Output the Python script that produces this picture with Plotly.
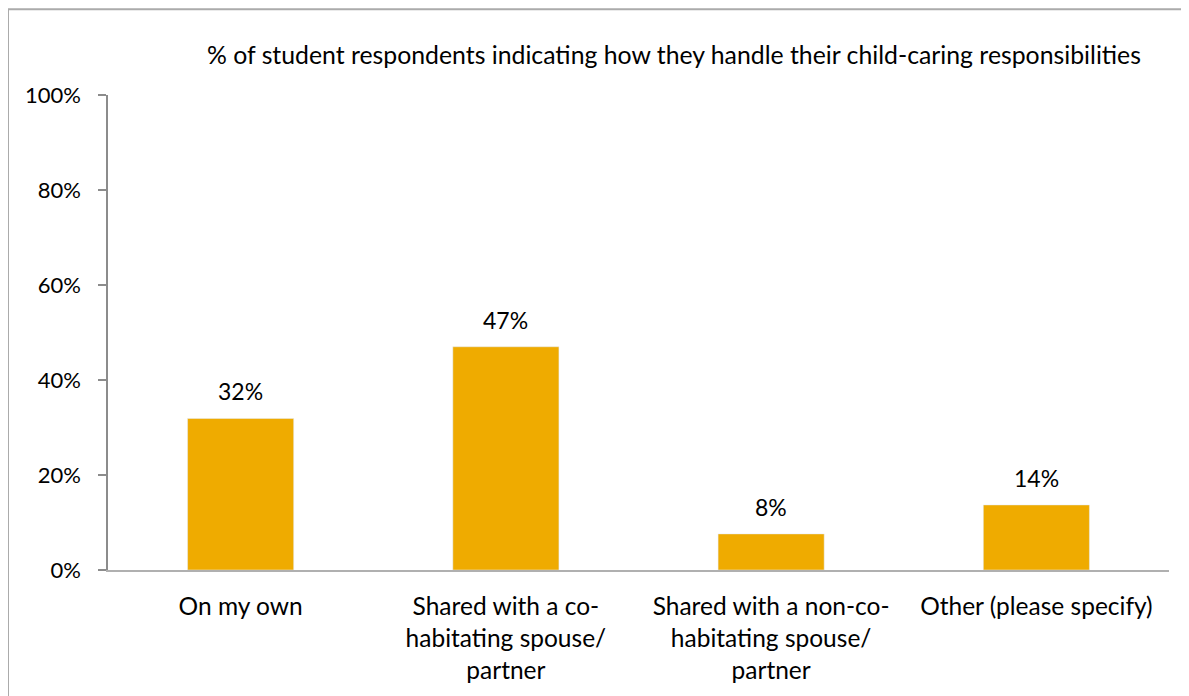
import plotly.graph_objects as go

categories = ["On my own", "Shared with a co-<br>habitating spouse/<br>partner",
              "Shared with a non-co-<br>habitating spouse/<br>partner", "Other (please specify)"]
values = [0.319, 0.47, 0.076, 0.137]
labels = ["32%", "47%", "8%", "14%"]
tick_vals = [0, 0.2, 0.4, 0.6, 0.8, 1.0]
tick_text = ["0%", "20%", "40%", "60%", "80%", "100%"]
title = "% of student respondents indicating how they handle their child-caring responsibilities"

FONT = "Lato, Carlito, Calibri, sans-serif"

fig = go.Figure(go.Bar(x=categories, y=values, marker_color="#EFAB00", width=0.4,
                       hoverinfo="skip"))

for c, v, t in zip(categories, values, labels):
    fig.add_annotation(x=c, y=v, text=t, showarrow=False, yanchor="bottom", yshift=11,
                       font=dict(size=23, color="#000000", family=FONT))

# page has 8px body offset
W, H = 1181, 688
L, R, T, B = 100, 20, 87, 124
pw, ph = W - L - R, H - T - B
fig.add_shape(type="rect", xref="paper", yref="paper",
              x0=(0 - L) / pw, x1=(W + 30 - L) / pw,
              y0=-(H + 30 - T - ph) / ph, y1=(H - B - 1) / ph,
              line=dict(color="#ABABAB", width=2), fillcolor="rgba(0,0,0,0)", layer="below")

fig.update_layout(
    width=W, height=H,
    margin=dict(l=L, r=R, t=T, b=B),
    paper_bgcolor="white", plot_bgcolor="white",
    showlegend=False,
    font=dict(family=FONT, size=23, color="#000000"),
    title=dict(text=title, x=666 / W, xanchor="center", y=1 - 47 / H, yanchor="middle",
               font=dict(size=24.8, family=FONT, color="#000000")),
    bargap=0.6,
)
fig.update_xaxes(showline=True, linecolor="#B0B0B0", linewidth=1.5, ticks="",
                 tickfont=dict(size=24.5), showgrid=False, ticklabelstandoff=14)
fig.update_yaxes(range=[0, 1], tickvals=tick_vals, ticktext=tick_text, showline=True,
                 linecolor="#8C8C8C", linewidth=1.5, ticks="outside", ticklen=8,
                 tickcolor="#8C8C8C", tickwidth=1.5, showgrid=False, zeroline=False,
                 tickfont=dict(size=22), ticklabelstandoff=13)

fig.write_html("out.html")
